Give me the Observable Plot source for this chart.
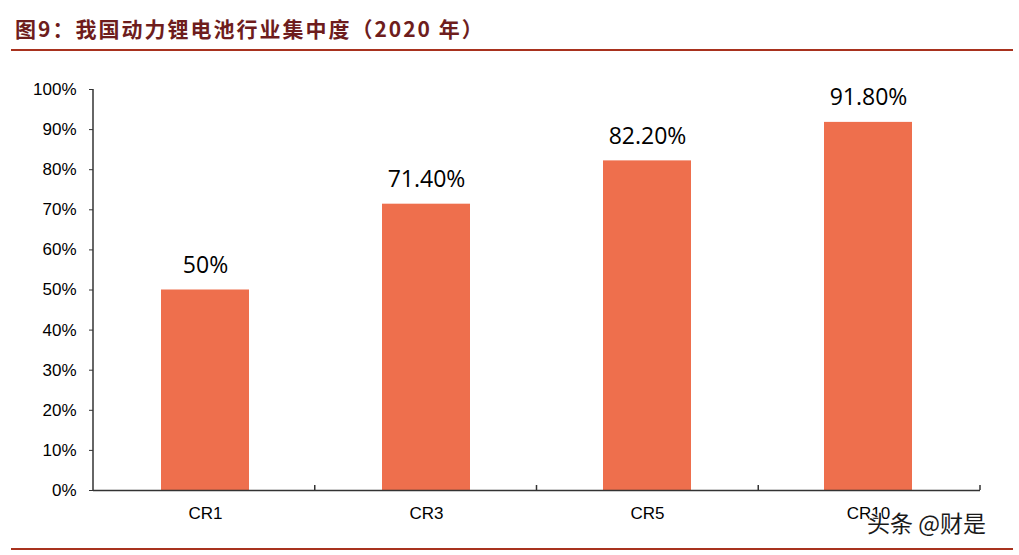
<!DOCTYPE html>
<html>
<head>
<meta charset="utf-8">
<script src="https://cdn.jsdelivr.net/npm/d3@7"></script>
<script src="https://cdn.jsdelivr.net/npm/@observablehq/plot@0.6"></script>
<style>
  html, body { margin: 0; padding: 0; background: #fff; }
  #wrap { position: relative; width: 1019px; height: 555px; overflow: hidden; }
  #title { position: absolute; left: 15px; top: 13px; font-family: "Noto Sans CJK SC", sans-serif; font-weight: bold; font-size: 21px; letter-spacing: 2px; color: #6e1d1d; white-space: nowrap; line-height: 30px; }
  .rule { position: absolute; left: 11px; width: 1002px; height: 2px; background: #a8321e; }
  #chart { position: absolute; left: 0; top: 0; }
  #wm { position: absolute; left: 867px; top: 505px; font-family: "Noto Sans CJK SC", sans-serif; font-size: 23px; color: #1a1a1a; white-space: nowrap; -webkit-text-stroke: 0.6px #fff; paint-order: stroke fill; text-shadow: 0 0 2px #fff, 0 0 2px #fff; }
</style>
</head>
<body>
<div id="wrap">
  <div id="chart"></div>
  <div id="title">图9：我国动力锂电池行业集中度（2020 年）</div>
  <div class="rule" style="top:49px"></div>
  <div class="rule" style="top:548px"></div>
  <div id="wm">头条 @财是</div>
</div>
<script>
const categories = ["CR1", "CR3", "CR5", "CR10"];
const values = [0.50, 0.714, 0.822, 0.918];
const valueLabels = ["50%", "71.40%", "82.20%", "91.80%"];
const yTicks = [0, 0.1, 0.2, 0.3, 0.4, 0.5, 0.6, 0.7, 0.8, 0.9, 1.0];

const data = categories.map((c, i) => ({cat: c, value: values[i], label: valueLabels[i]}));

function axisFrame(index, scales, vals, dims) {
  const {width, height, marginLeft, marginRight, marginTop, marginBottom} = dims;
  const y0 = height - marginBottom;
  const g = d3.create("svg:g").attr("stroke", "#333").attr("stroke-width", 1.5);
  g.append("line").attr("x1", marginLeft).attr("x2", marginLeft).attr("y1", marginTop).attr("y2", y0);
  const n = categories.length;
  const span = width - marginLeft - marginRight;
  for (let k = 1; k <= n; k++) {
    const x = marginLeft + k * span / n;
    g.append("line").attr("x1", x).attr("x2", x).attr("y1", y0).attr("y2", y0 - 5);
  }
  return g.node();
}

const chart = Plot.plot({
  width: 1019,
  height: 555,
  marginLeft: 93,
  marginRight: 39,
  marginTop: 89,
  marginBottom: 65,
  style: {fontFamily: "'Liberation Sans', Arial, sans-serif", fontSize: "17px", color: "#000", background: "transparent"},
  x: {domain: categories, paddingInner: 0.6, paddingOuter: 0.3},
  y: {domain: [0, 1]},
  marks: [
    Plot.barY(data, {x: "cat", y: "value", fill: "#EE6F4D"}),
    Plot.ruleY([0], {stroke: "#333", strokeWidth: 1.5}),
    axisFrame,
    Plot.axisY({ticks: yTicks, tickFormat: d3.format(".0%"), tickSize: 4, tickPadding: 13, fontSize: 17, label: null, stroke: "#333"}),
    Plot.axisX({tickSize: 0, tickPadding: 16, fontSize: 17, label: null}),
    Plot.text(data, {x: "cat", y: "value", text: "label", dy: -17, lineAnchor: "bottom", fontSize: 23, fontFamily: "'Open Sans', sans-serif", fill: "#000"})
  ]
});
document.getElementById("chart").appendChild(chart);
</script>
</body>
</html>
